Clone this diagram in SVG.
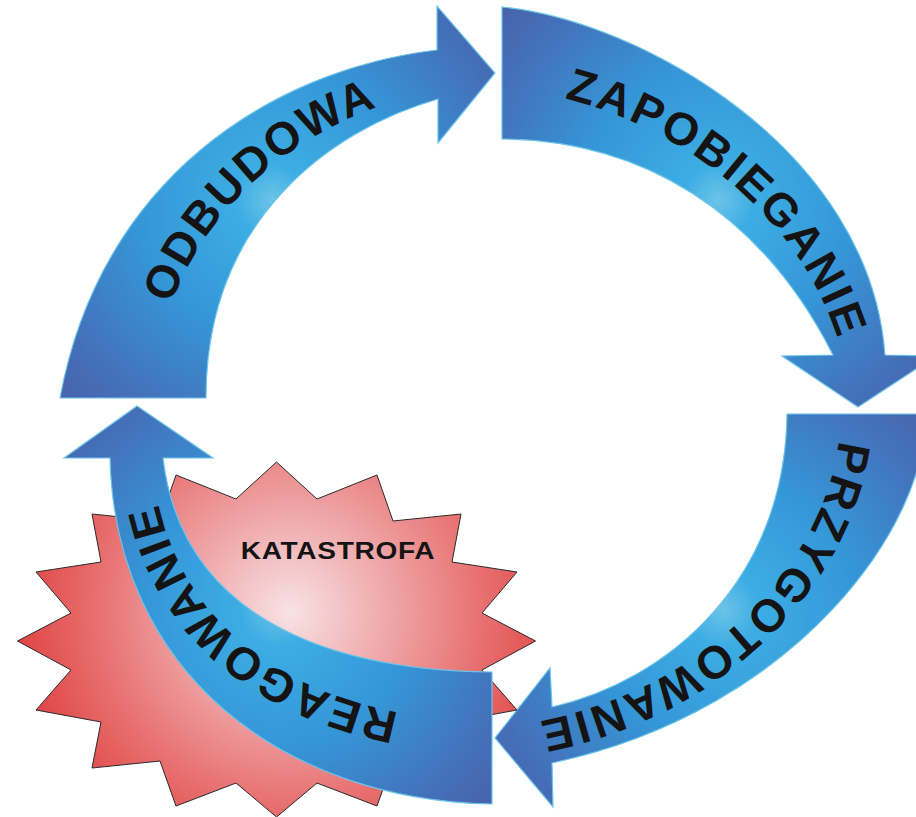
<svg xmlns="http://www.w3.org/2000/svg" xmlns:xlink="http://www.w3.org/1999/xlink" width="916" height="817" viewBox="0 0 916 817">
  <style>
    .arrow { stroke: #6cc4ea; stroke-width: 1.2; stroke-linejoin: miter; }
    .lbl { font-family: "Liberation Sans", Arial, sans-serif; font-weight: bold; font-size: 46px; letter-spacing: 4px; fill: #141414; dominant-baseline: central; }
    .star { stroke: #2a2a2a; stroke-width: 1; }
    .kat { font-family: "Liberation Sans", Arial, sans-serif; font-weight: bold; font-size: 24px; letter-spacing: 0.6px; fill: #141414; }
  </style>
  <defs>
    <radialGradient id="gZ" gradientUnits="userSpaceOnUse" cx="718" cy="200" r="300">
      <stop offset="0" stop-color="#6cc3e8"/>
      <stop offset="0.12" stop-color="#3cade4"/>
      <stop offset="0.45" stop-color="#3596d7"/>
      <stop offset="0.8" stop-color="#4470b9"/>
      <stop offset="1" stop-color="#4a5fa9"/>
    </radialGradient>
    <radialGradient id="gO" href="#gZ" xlink:href="#gZ" cx="272" cy="200"/>
    <radialGradient id="gP" href="#gZ" xlink:href="#gZ" cx="723" cy="610"/>
    <radialGradient id="gR" href="#gZ" xlink:href="#gZ" cx="277" cy="610"/>
    <radialGradient id="gStar" gradientUnits="userSpaceOnUse" cx="290" cy="612" r="275">
      <stop offset="0" stop-color="#f8e2e4"/>
      <stop offset="0.35" stop-color="#efa9ab"/>
      <stop offset="0.7" stop-color="#e87070"/>
      <stop offset="1" stop-color="#e04444"/>
    </radialGradient>
    <path id="tZ" d="M502,73 C640,80 815,180 859,355"/>
    <path id="tO" d="M133,398 C153,200 300,100 437,74"/>
    <path id="tP" d="M856,414 C857,550 735,695 552,735 L520,740"/>
    <path id="tR" d="M492,738 C290,735 147,635 136,458"/>
  </defs>

  <g id="node-zapobieganie">
    <path class="arrow" fill="url(#gZ)" d="M502,7 C640,20 870,150 885,355 L936,356 L858,407 L782,356 L833,355 C760,210 640,140 502,139 Z"/>
    <text class="lbl" text-anchor="middle"><textPath href="#tZ" xlink:href="#tZ" startOffset="55%">ZAPOBIEGANIE</textPath></text>
  </g>

  <g id="node-przygotowanie">
    <path class="arrow" fill="url(#gP)" d="M925,414 C930,520 800,710 552,763 L553,807 L495,738 L550,668 L552,707 C670,680 785,580 787,414 Z"/>
    <text class="lbl" text-anchor="middle"><textPath href="#tP" xlink:href="#tP" startOffset="51%">PRZYGOTOWANIE</textPath></text>
  </g>

  <g id="node-odbudowa">
    <path class="arrow" fill="url(#gO)" d="M60,398 C100,180 270,70 437,50 L437,6 L495,73 L438,143 L438,99 C330,130 206,220 206,398 Z"/>
    <text class="lbl" text-anchor="middle"><textPath href="#tO" xlink:href="#tO" startOffset="54%">ODBUDOWA</textPath></text>
  </g>

  <g id="node-katastrofa">
    <polygon class="star" fill="url(#gStar)" points="276.5,462 317,499 377,475 393,521 461,514 452,562 517,572 482,613 535.5,641 482,670 517,710 452,722 461,768 393,761 377,806 317,783 276.5,817 236,783 176,806 160,761 92,768 101,722 36,710 71,670 17.5,641 71,613 36,572 101,562 92,514 160,521 176,475 236,499"/>
    <text class="kat" transform="translate(338,559) scale(1.17,1)" x="0" y="0" text-anchor="middle">KATASTROFA</text>
  </g>

  <g id="node-reagowanie">
    <path class="arrow" fill="url(#gR)" d="M492,804 C280,800 115,670 110,458 L64,458 L137,406 L213,458 L163,458 C180,600 300,670 492,672 Z"/>
    <text class="lbl" text-anchor="middle"><textPath href="#tR" xlink:href="#tR" startOffset="55%">REAGOWANIE</textPath></text>
  </g>
</svg>
